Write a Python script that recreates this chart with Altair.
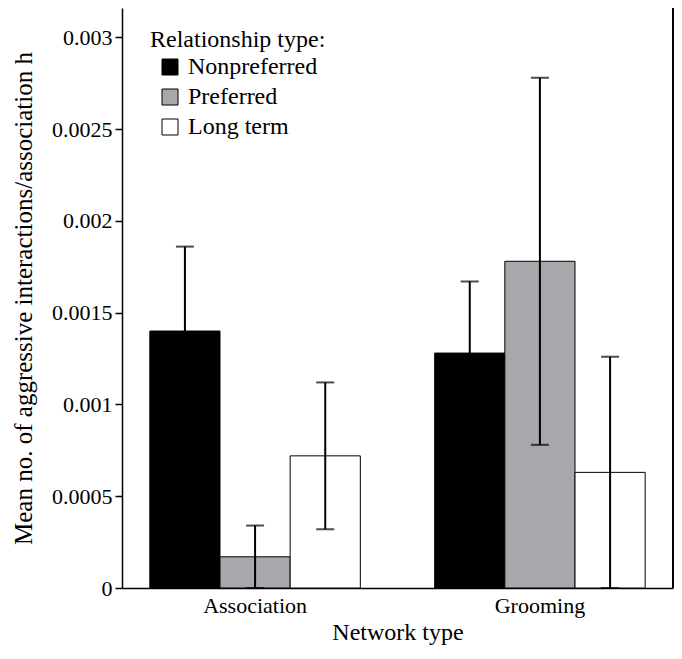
import altair as alt
import pandas as pd

networks = ["Association", "Grooming"]
relationships = ["Nonpreferred", "Preferred", "Long term"]
assoc_means = [0.00140, 0.00017, 0.00072]
assoc_se = [0.00046, 0.00017, 0.00040]
groom_means = [0.00128, 0.00178, 0.00063]
groom_se = [0.00039, 0.00100, 0.00063]
fill_colors = ["#000000", "#a7a8ab", "#ffffff"]
y_ticks = [0, 0.0005, 0.001, 0.0015, 0.002, 0.0025, 0.003]

rows = []
for net, means, ses in [(networks[0], assoc_means, assoc_se), (networks[1], groom_means, groom_se)]:
    for rel, m, s in zip(relationships, means, ses):
        rows.append({"network": net, "rel": rel, "mean": m,
                     "lo": max(m - s, 0.0), "hi": m + s})
df = pd.DataFrame(rows)

FONT = "'Liberation Serif', 'DejaVu Serif', serif"
W, H = 551, 580

x = alt.X("network:N", sort=networks,
          scale=alt.Scale(paddingInner=0.261, paddingOuter=0.0977),
          axis=alt.Axis(title="Network type", ticks=False, labelAngle=0,
                        labelPadding=7, titlePadding=4,
                        labelFontSize=22, titleFontSize=24,
                        domainColor="black", domainWidth=1.5))
xo = alt.XOffset("rel:N", sort=relationships,
                 scale=alt.Scale(paddingInner=0, paddingOuter=0))
yscale = alt.Scale(domain=[0, 0.00316], nice=False)
yaxis = alt.Axis(title="Mean no. of aggressive interactions/association h",
                 values=y_ticks, format="~g", tickSize=7, tickColor="black",
                 tickWidth=1.5, domainColor="black", domainWidth=1.5,
                 labelPadding=3, labelFontSize=22, titleFontSize=25,
                 titlePadding=15)

bars = alt.Chart(df).mark_bar(stroke="black", strokeWidth=1).encode(
    x=x, xOffset=xo,
    y=alt.Y("mean:Q", scale=yscale, axis=yaxis),
    fill=alt.Fill("rel:N", sort=relationships,
                  scale=alt.Scale(domain=relationships, range=fill_colors),
                  legend=alt.Legend(title="Relationship type:", orient="none",
                                    legendX=28, legendY=20,
                                    symbolType="square", symbolSize=256,
                                    symbolStrokeColor="black",
                                    symbolStrokeWidth=1, symbolOffset=8,
                                    labelFontSize=24, titleFontSize=24,
                                    titleFontWeight="normal", labelOffset=6,
                                    rowPadding=6, titlePadding=3)),
)

err = alt.Chart(df).mark_rule(color="black", strokeWidth=2).encode(
    x=x, xOffset=xo, y=alt.Y("lo:Q", scale=yscale), y2="hi:Q")
cap_hi = alt.Chart(df).mark_tick(color="black", thickness=2, size=18).encode(
    x=x, xOffset=xo, y=alt.Y("hi:Q", scale=yscale))
cap_lo = alt.Chart(df).mark_tick(color="black", thickness=2, size=18).encode(
    x=x, xOffset=xo, y=alt.Y("lo:Q", scale=yscale))
border = alt.Chart(df).mark_rule(color="black", strokeWidth=1.5).encode(
    x=alt.value(W), y=alt.value(0), y2=alt.value(H))

chart = alt.layer(bars, err, cap_hi, cap_lo, border).properties(
    width=W, height=H,
    autosize=alt.AutoSizeParams(type="none"),
    padding={"left": 114, "top": 0, "right": 1, "bottom": 60},
).configure(font=FONT).configure_view(stroke=None).configure_axis(
    grid=False, labelColor="black", titleColor="black",
    labelFont=FONT, titleFont=FONT, titleFontWeight="normal",
).configure_legend(labelFont=FONT, titleFont=FONT, labelColor="black",
                   titleColor="black")

chart.save("out.html", embed_options={"renderer": "svg", "actions": False})
